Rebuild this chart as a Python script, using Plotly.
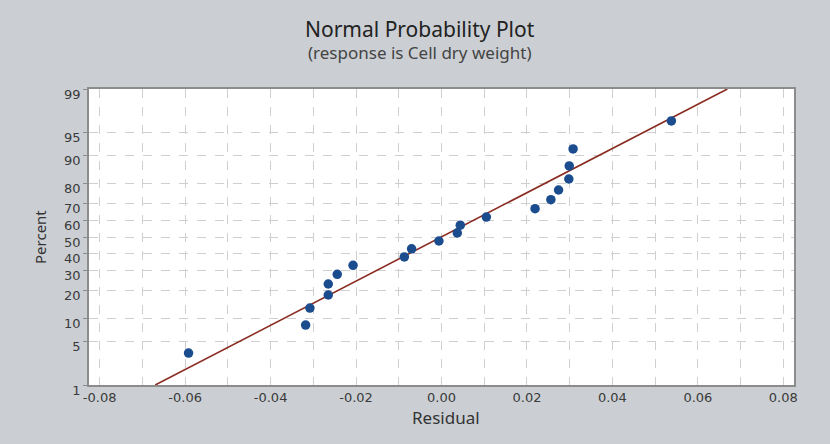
from statistics import NormalDist
import plotly.graph_objects as go

# Data
residuals = [-0.0592, -0.0318, -0.0308, -0.0265, -0.0265, -0.0244, -0.0207,
             -0.0087, -0.0070, -0.0006, 0.0037, 0.0044, 0.0105, 0.0219,
             0.0256, 0.0274, 0.0298, 0.0299, 0.0308, 0.0538]
percents = [3.4, 8.3, 13.2, 18.1, 23.0, 27.9, 32.8, 37.7, 42.6, 47.5,
            52.5, 57.4, 62.3, 67.2, 72.1, 77.0, 81.9, 86.8, 91.7, 96.6]
fit_line_x = [-0.0670, 0.0669]
fit_line_pct = [1, 99]

y_tick_pcts = [1, 5, 10, 20, 30, 40, 50, 60, 70, 80, 90, 95, 99]
x_tick_vals = [-0.08, -0.06, -0.04, -0.02, 0.00, 0.02, 0.04, 0.06, 0.08]
x_tick_text = ["-0.08", "-0.06", "-0.04", "-0.02", "0.00", "0.02", "0.04", "0.06", "0.08"]

nd = NormalDist()
def z(p):
    return nd.inv_cdf(p / 100.0)

fig = go.Figure()
fig.add_trace(go.Scatter(
    x=fit_line_x, y=[z(p) for p in fit_line_pct], mode="lines",
    line=dict(color="#8a2c22", width=1.6), hoverinfo="skip", showlegend=False))
fig.add_trace(go.Scatter(
    x=residuals, y=[z(p) for p in percents], mode="markers",
    marker=dict(color="#1b4c8e", size=9.5, line=dict(width=0)), showlegend=False))

W, L, T = 705, 89, 89
H = 296
def px(xp):
    return (xp - L) / W
def py(yp):
    return 1 - (yp - T) / H

grid = dict(gridcolor="#cfcfcf", griddash="dash", gridwidth=1)
fig.update_layout(
    width=830, height=444,
    margin=dict(l=89, r=36, t=89, b=59),
    paper_bgcolor="#cbcfd3", plot_bgcolor="white",
    font=dict(family="DejaVu Sans", color="#333333"),
    annotations=[
        dict(text="Normal Probability Plot", xref="paper", yref="paper",
             x=px(420), y=py(29), yanchor="middle", showarrow=False,
             font=dict(family="Noto Sans", size=21, color="#222222")),
        dict(text="(response is Cell dry weight)", xref="paper", yref="paper",
             x=px(419), y=py(53), yanchor="middle", showarrow=False,
             font=dict(family="Noto Sans", size=17, color="#444444")),
        dict(text="Residual", xref="paper", yref="paper",
             x=px(446), y=py(417), yanchor="middle", showarrow=False,
             font=dict(family="Noto Sans", size=17, color="#333333")),
        dict(text="Percent", xref="paper", yref="paper", textangle=-90,
             x=px(40), y=py(237), xanchor="center", yanchor="middle", showarrow=False,
             font=dict(family="Noto Sans", size=15, color="#333333")),
    ],
)
fig.update_xaxes(
    range=[-0.0825, 0.0825], tickvals=x_tick_vals, ticktext=x_tick_text,
    showgrid=False, zeroline=False, ticks="", tickfont=dict(size=13, color="#3a3a3a"),
    showline=True, mirror=True, linecolor="#8c8c8c", linewidth=1.5,
    minor=dict(dtick=0.01, tick0=0, showgrid=True, **grid),
)
fig.update_yaxes(
    range=[z(1), z(99)], tickvals=[z(p) for p in y_tick_pcts],
    ticktext=[str(p) for p in y_tick_pcts], zeroline=False,
    showgrid=True, **grid, ticks="outside", ticklen=4, tickcolor="#8c8c8c",
    tickfont=dict(size=13, color="#3a3a3a"), ticklabelshift=5,
    showline=True, mirror=True, linecolor="#8c8c8c", linewidth=1.5,
)

fig.write_html("out.html")
